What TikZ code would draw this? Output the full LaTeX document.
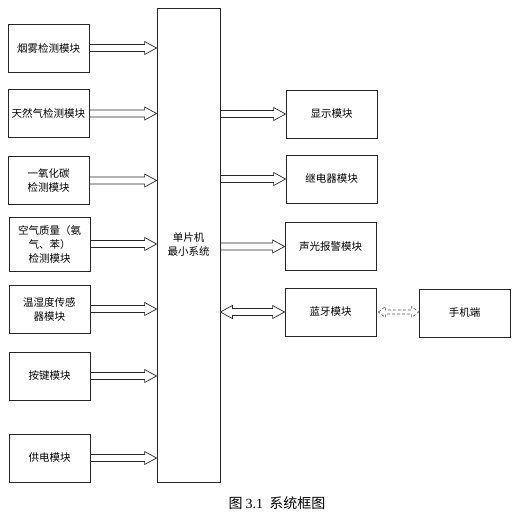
\documentclass[tikz,border=0pt]{standalone}
\usepackage{fontspec}
\setmainfont{Noto Sans CJK SC}
\newfontfamily\latinserif{Liberation Serif}
\usetikzlibrary{calc}

\tikzset{
  module/.style={draw=black!85, line width=0.8pt, align=center, minimum width=81pt,
    minimum height=48pt, inner sep=1pt, font=\fontsize{10.5}{14}\selectfont},
  % hollow block arrow, tip at the target
  fatarrow/.style={draw=black!85, line width=0.7pt, fill=white,
    to path={let \p1=(\tikztostart), \p2=(\tikztotarget) in
      (\x1,\y1+3.5pt) -- (\x2-12pt,\y1+3.5pt) -- (\x2-12pt,\y1+6.5pt) -- (\x2,\y1)
      -- (\x2-12pt,\y1-6.5pt) -- (\x2-12pt,\y1-3.5pt) -- (\x1,\y1-3.5pt) -- cycle}},
  % hollow block arrow, tips at both ends
  fatboth/.style={draw=black!85, line width=0.7pt, fill=white,
    to path={let \p1=(\tikztostart), \p2=(\tikztotarget) in
      (\x1,\y1) -- (\x1+12pt,\y1+6.5pt) -- (\x1+12pt,\y1+3.5pt) -- (\x2-12pt,\y1+3.5pt)
      -- (\x2-12pt,\y1+6.5pt) -- (\x2,\y1) -- (\x2-12pt,\y1-6.5pt) -- (\x2-12pt,\y1-3.5pt)
      -- (\x1+12pt,\y1-3.5pt) -- (\x1+12pt,\y1-6.5pt) -- cycle}},
  thinboth/.style={draw=black!65, line width=0.6pt, dash pattern=on 3pt off 2pt,
    to path={let \p1=(\tikztostart), \p2=(\tikztotarget) in
      (\x1,\y1) -- (\x1+7pt,\y1+5.5pt) -- (\x1+7pt,\y1+2pt) -- (\x2-7pt,\y1+2pt)
      -- (\x2-7pt,\y1+5.5pt) -- (\x2,\y1) -- (\x2-7pt,\y1-5.5pt) -- (\x2-7pt,\y1-2pt)
      -- (\x1+7pt,\y1-2pt) -- (\x1+7pt,\y1-5.5pt) -- cycle}},
}

\begin{document}
\begin{tikzpicture}[x=1pt,y=-1pt]
  \useasboundingbox (0,0) rectangle (518,520);

  % input modules
  \node[module] (smoke) at (48.5,48) {烟雾检测模块};
  \node[module] (gas) at (48.5,113.5) {天然气检测模块};
  \node[module] (co) at (48.5,180.5) {一氧化碳\\检测模块};
  \node[module, minimum height=54pt] (air) at (49.5,244) {空气质量（氨\\气、苯）\\检测模块};
  \node[module] (th) at (49.5,309) {温湿度传感\\器模块};
  \node[module] (key) at (49.5,376) {按键模块};
  \node[module] (power) at (49.5,458) {供电模块};

  % controller
  \node[module, minimum width=63pt, minimum height=474pt] (mcu) at (188.5,245) {单片机\\最小系统};

  % output modules
  \node[module, minimum width=91pt] (disp) at (331.5,114) {显示模块};
  \node[module, minimum width=91pt] (relay) at (331.5,179) {继电器模块};
  \node[module, minimum width=91pt] (alarm) at (330.5,246.5) {声光报警模块};
  \node[module, minimum width=91pt] (bt) at (330.5,312) {蓝牙模块};
  \node[module, minimum width=91pt] (phone) at (464.5,313) {手机端};

  % connectors
  \foreach \m in {smoke,gas,co,air,th,key,power}
    \draw[fatarrow] (\m.east) to (\m.east -| mcu.west);
  \foreach \m in {disp,relay,alarm}
    \draw[fatarrow] (\m.west -| mcu.east) to (\m.west);
  \draw[fatboth] (bt.west -| mcu.east) to (bt.west);
  \draw[thinboth] ($(bt.east)+(2,0)$) to (phone.west |- bt.east);

  % caption
  \node[font=\fontsize{14}{17}\selectfont] (cap) at (277,503) {图 {\latinserif 3.1}\ \ 系统框图};
\end{tikzpicture}
\end{document}
